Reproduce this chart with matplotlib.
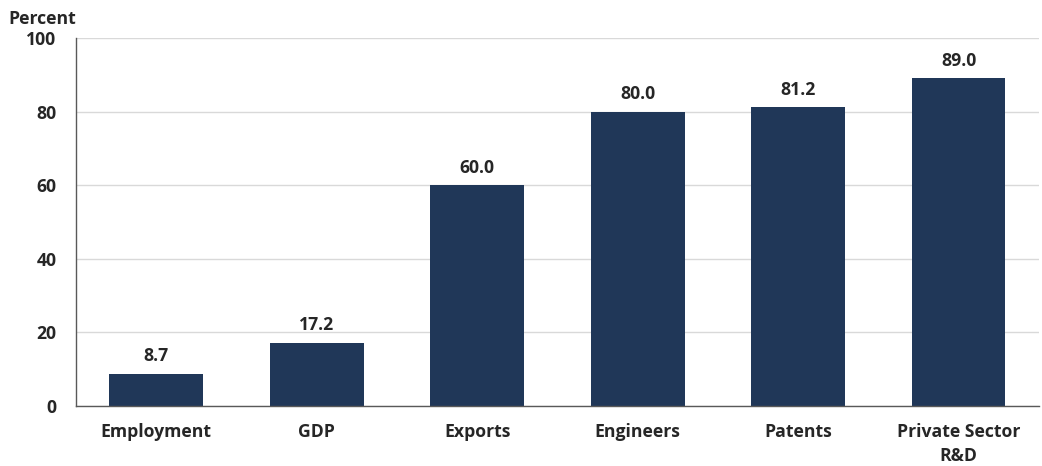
import matplotlib
matplotlib.use("Agg")
import matplotlib.pyplot as plt

categories = ["Employment", "GDP", "Exports", "Engineers", "Patents", "Private Sector\nR&D"]
values = [8.7, 17.2, 60.0, 80.0, 81.2, 89.0]
yticks = [0, 20, 40, 60, 80, 100]

plt.rcParams['font.family'] = ['Open Sans', 'DejaVu Sans']
plt.rcParams['font.weight'] = 'bold'

FS = 12.7
fig = plt.figure(figsize=(10.42, 4.66), dpi=100)
ax = fig.add_axes([0.0729, 0.1288, 0.924, 0.7897])

x = range(len(categories))
ax.bar(x, values, width=0.585, color="#203758", zorder=3)
for xi, v in zip(x, values):
    ax.text(xi, v + 2.3, f"{v:.1f}", ha="center", va="bottom", fontsize=FS,
            fontweight="bold", color="#262626")

ax.set_xlim(-0.5, len(categories) - 0.5)
ax.set_ylim(0, 100)
ax.set_yticks(yticks)
ax.set_yticklabels([str(t) for t in yticks], fontsize=FS, fontweight="bold", color="#262626")
ax.set_xticks(list(x))
ax.set_xticklabels(categories, fontsize=FS, fontweight="bold", color="#262626", linespacing=1.45)
ax.tick_params(axis="both", length=0)
ax.tick_params(axis="x", pad=12)
ax.tick_params(axis="y", pad=14)
ax.yaxis.grid(True, color="#d9d9d9", linewidth=1, zorder=0)
for s in ["top", "right"]:
    ax.spines[s].set_visible(False)
for s in ["left", "bottom"]:
    ax.spines[s].set_color("#595959")
    ax.spines[s].set_linewidth(1)
    ax.spines[s].set_zorder(4)

fig.text(0.008, 0.94, "Percent", fontsize=FS, fontweight="bold", color="#262626",
         ha="left", va="bottom")

fig.savefig("out.png", dpi=100)
